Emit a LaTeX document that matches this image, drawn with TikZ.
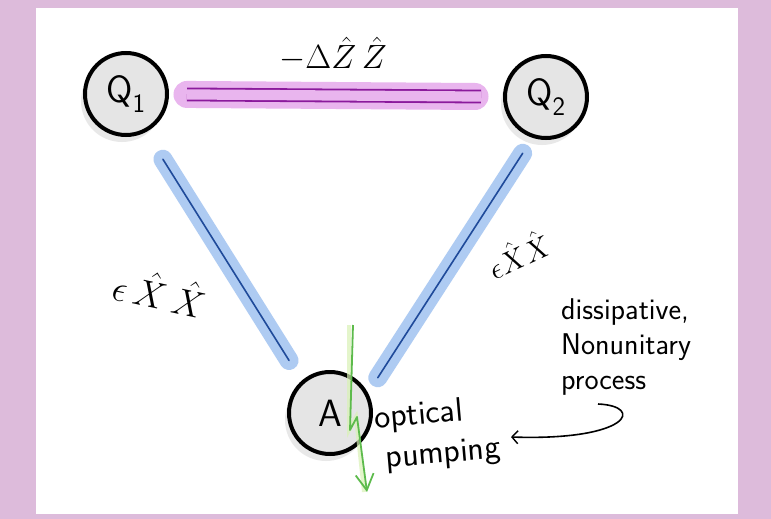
\documentclass[tikz,border=0pt]{standalone}
\usepackage{tikz}
\usetikzlibrary{positioning,arrows.meta,shadows}
\usepackage{amsmath,graphicx}
\definecolor{framepink}{HTML}{DDBBDB}
\definecolor{bandblue}{HTML}{AECBF2}
\definecolor{lineblue}{HTML}{1F4A9A}
\definecolor{bandpink}{HTML}{E9B5EE}
\definecolor{linepurple}{HTML}{8B1A9C}
\definecolor{pumpgreen}{HTML}{5DBB4C}
\definecolor{glowgreen}{HTML}{D9F2B5}
% math drawn larger than the largest math size
\newcommand{\bigmath}[2]{\scalebox{#1}{$#2$}}

\begin{document}
\begin{tikzpicture}[x=1pt,y=-1pt,>=stealth,
	qubit/.style={circle,draw,line width=4pt,fill=gray!20,%
		minimum size=82pt,inner sep=0pt,%
		font=\sffamily\fontsize{38}{38}\selectfont,%
		drop shadow={shadow xshift=-4pt,shadow yshift=-7pt,fill=gray!30,opacity=.6}},
	xxband/.style={line width=19pt,bandblue,line cap=round},
	xxline/.style={line width=1.6pt,lineblue,line cap=round},
	zzband/.style={line width=27pt,bandpink,line cap=round},
	zzline/.style={draw=linepurple,line width=1.8pt,double=bandpink,double distance=10.2pt},
	coupling/.style={font=\fontsize{24}{24}\selectfont,inner sep=0pt},
	note/.style={font=\sffamily\fontsize{30}{35}\selectfont,align=left,inner sep=0pt}]
	% frame
	\fill[framepink] (0,0) rectangle (771,519);
	\fill[white] (36,8) rectangle (738,514);
	% qubits and ancilla
	\node[qubit] (Q1) at (126,94) {Q\textsubscript{1}};
	\node[qubit] (Q2) at (546,97) {Q\textsubscript{2}};
	\node[qubit] (A) at (330,413) {A};
	% couplings
	\draw[zzband, shorten <=18pt, shorten >=28pt] (Q1) -- (Q2);
	\draw[zzline, shorten <=18pt, shorten >=22pt] (Q1) -- (Q2);
	\draw[xxband, shorten <=77pt, shorten >=62pt] ([xshift=-4pt]Q1.center) -- ([xshift=-8pt]A.center);
	\draw[xxline, shorten <=77pt, shorten >=62pt] ([xshift=-4pt]Q1.center) -- ([xshift=-8pt]A.center);
	\draw[xxband, shorten <=67pt, shorten >=42pt] ([xshift=13pt]Q2.center) -- ([xshift=25pt]A.center);
	\draw[xxline, shorten <=67pt, shorten >=42pt] ([xshift=13pt]Q2.center) -- ([xshift=25pt]A.center);
	\node[coupling] (zz) at (333,54) {\bigmath{1.35}{-\Delta\hat{Z}\,\hat{Z}}};
	\node[coupling, rotate=-12] (xxl) at (160,292) {\bigmath{1.5}{\epsilon\,\hat{X}\,\hat{X}}};
	\node[coupling, rotate=25] (xxr) at (518,254) {\bigmath{1.2}{\epsilon\hat{X}\hat{X}}};
	% optical pumping
	\coordinate (pumptop) at (353,325);
	\coordinate (pumpend) at (367,492);
	\draw[glowgreen, line width=4pt, opacity=.7] ([xshift=-4pt]pumptop) -- ++(0,105) -- ++(7,-13) -- ([xshift=-3pt]pumpend);
	\draw[pumpgreen, line width=1.8pt, line join=round, -{Straight Barb[length=16pt,width=18pt,line width=1.8pt]}]
		(pumptop) -- ++(-3,105) -- ++(7,-13) -- (pumpend);
	\node[note, font=\sffamily\fontsize{34}{40}\selectfont, rotate=5, anchor=west] (pump) at (376,440)
		{optical\\\hspace*{8pt}pumping};
	% dissipation note
	\node[note, anchor=north west] (diss) at (561,298)
		{dissipative,\\Nonunitary\\process};
	\coordinate (tail) at (598,404);
	\coordinate (tip) at (511,437);
	\draw[line width=1.6pt, -{Straight Barb[length=6pt,width=13pt,line width=1.4pt]}]
		(tail) .. controls (645,406) and (630,441) .. (tip);
\end{tikzpicture}
\end{document}
